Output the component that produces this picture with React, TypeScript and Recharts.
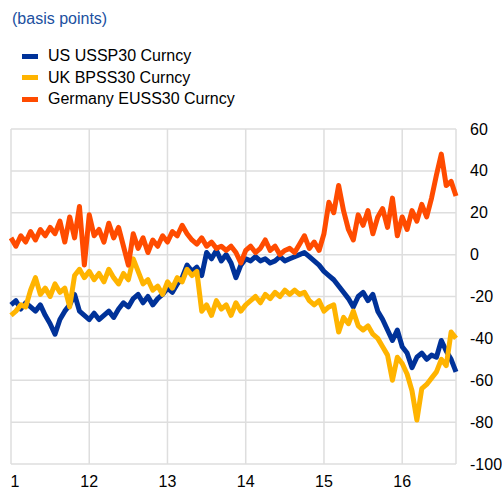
import { CartesianGrid, Line, LineChart, XAxis, YAxis } from "recharts";

// x runs in steps of 1/16 of a year from January 2011
const yearTicks = [0, 16, 32, 48, 64, 80];
const yearLabels = ["1", "12", "13", "14", "15", "16"];
const valueTicks = [-100, -80, -60, -40, -20, 0, 20, 40, 60];

const us = [
  -24, -22, -26, -23, -25, -27, -24, -29, -33, -38,
  -31, -27, -24, -19, -27, -29, -31, -28, -31, -29,
  -27, -30, -26, -23, -25, -21, -19, -23, -20, -24,
  -21, -19, -16, -18, -14, -11, -5, -8, -6, -10,
  1, -2, 2, -3, 0, -4, -11, -5, -2, -3,
  -1, -3, -2, -4, -3, -1, -3, -2, -1, 0,
  1, -1, -3, -5, -8, -10, -12, -15, -18, -21,
  -25, -20, -18, -22, -19, -27, -31, -36, -41, -36,
  -44, -47, -54, -49, -47, -50, -48, -49, -41, -46,
  -50, -56,
];

const uk = [
  -29, -27, -24, -25, -17, -11, -19, -16, -20, -14,
  -18, -16, -25, -10, -7, -11, -8, -12, -9, -13,
  -7, -11, -14, -9, -12, -2, -8, -14, -12, -17,
  -15, -19, -13, -16, -11, -13, -7, -10, -8, -27,
  -24, -29, -22, -26, -24, -29, -23, -27, -24, -22,
  -20, -23, -19, -21, -18, -20, -17, -19, -17, -19,
  -18, -22, -24, -22, -27, -25, -24, -37, -30, -33,
  -27, -34, -36, -34, -38, -40, -44, -48, -60, -49,
  -52, -57, -65, -79, -64, -62, -59, -56, -50, -53,
  -37, -40,
];

const germany = [
  8, 4, 9, 6, 11, 7, 12, 9, 13, 10,
  16, 6, 18, 8, 23, -5, 19, 9, 12, 6,
  15, 8, 13, 4, -5, 10, 3, 8, 1, 7,
  4, 9, 6, 11, 9, 14, 10, 7, 5, 8,
  4, 6, 3, 4, 2, 4, 1, -4, 2, 4,
  1, 3, 7, 2, 4, 0, 2, 3, 1, 5,
  9, 3, 6, 2, 10, 25, 20, 33, 21, 12,
  7, 19, 14, 21, 10, 18, 22, 13, 27, 9,
  18, 12, 21, 16, 24, 18, 27, 38, 48, 33,
  35, 28,
];

const series = [
  { key: "us", name: "US USSP30 Curncy", color: "#003299" },
  { key: "uk", name: "UK BPSS30 Curncy", color: "#ffb400" },
  { key: "germany", name: "Germany EUSS30 Curncy", color: "#ff4b00" },
];

const data = us.map((v, i) => ({ t: i, us: v, uk: uk[i], germany: germany[i] }));

const font = "'Liberation Sans', Arial, sans-serif";

function XTick({ x, payload }: any) {
  const idx = yearTicks.indexOf(payload.value);
  return (
    <text x={x + (idx === 0 ? 4 : 0)} y={481} textAnchor="middle" dominantBaseline="central" fontSize={16} fill="#000" fontFamily={font}>
      {yearLabels[idx]}
    </text>
  );
}

function YTick({ y, payload }: any) {
  return (
    <text x={470} y={y} textAnchor="start" dominantBaseline="central" fontSize={16} fill="#000" fontFamily={font}>
      {payload.value}
    </text>
  );
}

export default function App() {
  return (
    <div style={{ position: "absolute", left: 0, top: 0, width: 502, height: 489, background: "#fff", fontFamily: font, overflow: "hidden" }}>
      <div style={{ position: "absolute", left: 12, top: 10, fontSize: 16, color: "#2050a0" }}>(basis points)</div>
      {series.map((s, i) => (
        <div key={s.key} style={{ position: "absolute", left: 22, top: 47 + i * 21.5, display: "flex", alignItems: "center", fontSize: 16, color: "#000" }}>
          <span style={{ display: "inline-block", width: 16, height: 5, background: s.color, marginRight: 10 }} />
          <span>{s.name}</span>
        </div>
      ))}
      <div style={{ position: "absolute", left: 0, top: 0 }}>
        <LineChart width={502} height={489} data={data} margin={{ top: 129, right: 0, bottom: 0, left: 11 }}>
          <CartesianGrid stroke="#dedede" strokeWidth={1.5} />
          <XAxis
            dataKey="t"
            type="number"
            domain={[0, 91]}
            ticks={yearTicks}
            tick={<XTick />}
            tickLine={false}
            axisLine={false}
            height={25}
            interval={0}
          />
          <YAxis
            orientation="right"
            domain={[-100, 60]}
            ticks={valueTicks}
            tick={<YTick />}
            tickLine={false}
            axisLine={false}
            width={46}
            interval={0}
          />
          {series.map((s) => (
            <Line
              key={s.key}
              dataKey={s.key}
              name={s.name}
              stroke={s.color}
              strokeWidth={5}
              dot={false}
              type="linear"
              strokeLinejoin="round"
              isAnimationActive={false}
            />
          ))}
        </LineChart>
      </div>
    </div>
  );
}
